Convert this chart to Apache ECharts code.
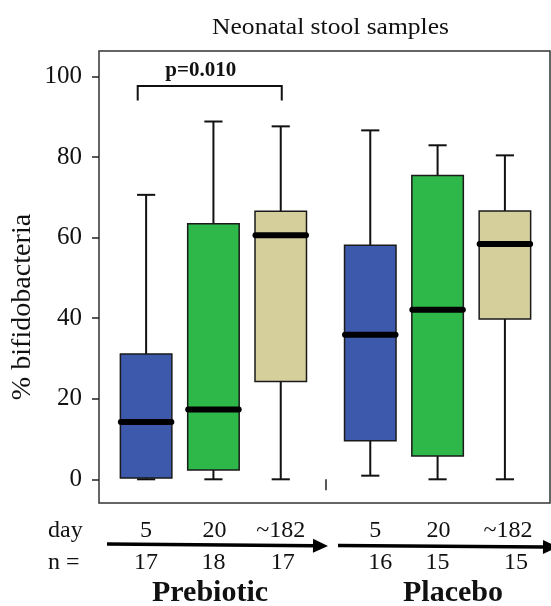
<!DOCTYPE html>
<html>
<head>
<meta charset="utf-8">
<script src="https://cdn.jsdelivr.net/npm/echarts@6/dist/echarts.min.js"></script>
<style>
  html, body { margin: 0; padding: 0; background: #fff; }
  #chart { width: 551px; height: 606px; }
</style>
</head>
<body>
<div id="chart"></div>
<script>
// ---- data ----
const titleText = 'Neonatal stool samples';
const yAxisTitle = '% bifidobacteria';
const groups = ['Prebiotic', 'Placebo'];
const days = ['5', '20', '~182'];
const dayLabels = ['5', '20', '~182', '5', '20', '~182'];
const nValues = [17, 18, 17, 16, 15, 15];
const whiskerLow = [0, 0, 0, 0.9, 0, 0];
const q1 = [0.3, 2.3, 24.3, 9.6, 5.8, 39.8];
const median = [14.2, 17.3, 60.6, 35.9, 42.1, 58.4];
const q3 = [31.1, 63.4, 66.5, 58.1, 75.4, 66.6];
const whiskerHigh = [70.6, 88.8, 87.6, 86.6, 82.9, 80.4];
const yTicks = [0, 20, 40, 60, 80, 100];
const pText = 'p=0.010';

// ---- layout / style ----
const GROUP_STEP = 3.33;           // distance between groups in x units
const BOX_W = 0.765, CAP_W = 0.27;
const boxColors = ['#3D59AB', '#2FB84A', '#D5CF9B'];
const FONT = '"Liberation Serif", "Times New Roman", serif';

const xPos = [];
groups.forEach((g, gi) => days.forEach((d, di) => xPos.push(1 + gi * GROUP_STEP + di)));
const boxData = xPos.map((x, i) => [x, whiskerLow[i], q1[i], median[i], q3[i], whiskerHigh[i]]);
const sepX = (xPos[2] + xPos[3]) / 2;

const chart = echarts.init(document.getElementById('chart'), null, { renderer: 'canvas' });

chart.setOption({
  backgroundColor: '#fff',
  animation: false,
  grid: { left: 99, right: 1, top: 51, bottom: 103, show: true, borderColor: '#333', borderWidth: 1.5,
          containLabel: false, outerBoundsMode: 'none' },
  xAxis: {
    type: 'value', min: 0.3, max: 7.0,
    axisLine: { show: false },
    axisTick: { show: true, customValues: [sepX], length: 11, lineStyle: { color: '#222', width: 1.5 } },
    axisLabel: { show: false },
    splitLine: { show: false }
  },
  yAxis: {
    type: 'value', min: -5.88, max: 106.3,
    axisLine: { show: false },
    axisTick: { show: true, customValues: yTicks, length: 7, lineStyle: { color: '#222', width: 1.5 } },
    axisLabel: { customValues: yTicks, fontFamily: FONT, fontSize: 25, color: '#111', margin: 17 },
    splitLine: { show: false }
  },
  series: [{
    type: 'custom',
    data: boxData,
    encode: { x: 0, y: [1, 2, 3, 4, 5] },
    renderItem: function (params, api) {
      const x = api.value(0);
      const lo = api.coord([x, api.value(1)]);
      const b1 = api.coord([x, api.value(2)]);
      const md = api.coord([x, api.value(3)]);
      const b3 = api.coord([x, api.value(4)]);
      const hi = api.coord([x, api.value(5)]);
      const hw = api.size([BOX_W, 0])[0] / 2;
      const cw = api.size([CAP_W, 0])[0] / 2;
      const color = boxColors[params.dataIndex % 3];
      const ls = { stroke: '#111', lineWidth: 2 };
      return {
        type: 'group',
        children: [
          { type: 'line', shape: { x1: md[0], y1: hi[1], x2: md[0], y2: lo[1] }, style: ls },
          { type: 'line', shape: { x1: md[0] - cw, y1: hi[1], x2: md[0] + cw, y2: hi[1] }, style: ls },
          { type: 'line', shape: { x1: md[0] - cw, y1: lo[1], x2: md[0] + cw, y2: lo[1] }, style: ls },
          { type: 'rect', shape: { x: md[0] - hw, y: b3[1], width: hw * 2, height: b1[1] - b3[1] },
            style: { fill: color, stroke: '#1a1a1a', lineWidth: 1.5 } },
          { type: 'line', shape: { x1: md[0] - hw + 0.5, y1: md[1], x2: md[0] + hw - 0.5, y2: md[1] },
            style: { stroke: '#000', lineWidth: 6, lineCap: 'round' } }
        ]
      };
    }
  }]
});

// ---- annotations ----
function px(x, y) { return chart.convertToPixel({ xAxisIndex: 0, yAxisIndex: 0 }, [x, y]); }
const nShift = [0, 0, 2, 10, 0, 11];
const dayShift = [0, 1, 0, 5, 1, 3];
const gfx = [];
const txt = (t, x, y, size, bold, align, extra) => Object.assign({
  type: 'text', x: x, y: y,
  style: { text: t, fontFamily: FONT, fontSize: size, fontWeight: bold ? 'bold' : 'normal',
           fill: '#111', align: align || 'center', verticalAlign: 'middle' }
}, extra || {});

gfx.push(txt(titleText, 330.5, 28, 23, false, 'center', { scaleX: 1.11 }));
gfx.push(txt(yAxisTitle, 23, 307, 27, false, 'center', { rotation: Math.PI / 2, scaleX: 1.04 }));
gfx.push(txt('day', 48, 531, 24, false, 'left'));
gfx.push(txt('n =', 48, 563, 24, false, 'left'));
xPos.forEach((x, i) => {
  const p = px(x, 0);
  gfx.push(txt(dayLabels[i], p[0] + dayShift[i], 531, 24, false));
  gfx.push(txt(String(nValues[i]), p[0] + nShift[i], 563, 24, false));
});
gfx.push(txt(groups[0], 210, 593, 30, true));
gfx.push(txt(groups[1], 453, 593, 30, true));

// arrows
function arrow(x1, y1, x2, y2) {
  const ang = Math.atan2(y2 - y1, x2 - x1);
  const L = 15, H = 7;
  const bx = x2 - L * Math.cos(ang), by = y2 - L * Math.sin(ang);
  return [
    { type: 'line', shape: { x1: x1, y1: y1, x2: bx + 1, y2: by }, style: { stroke: '#000', lineWidth: 3.5 } },
    { type: 'polygon', shape: { points: [[x2, y2], [bx - H * Math.sin(ang), by + H * Math.cos(ang)], [bx + H * Math.sin(ang), by - H * Math.cos(ang)]] },
      style: { fill: '#000' } }
  ];
}
gfx.push(...arrow(107, 544, 328, 546));
gfx.push(...arrow(338, 545.5, 558, 547));

// significance bracket
const bl = px(0.875, 94.0), br = px(3.015, 94.0), bt = px(0.875, 97.6);
gfx.push({ type: 'polyline', shape: { points: [[bl[0], bl[1]], [bl[0], bt[1]], [br[0], bt[1]], [br[0], br[1]]] },
  style: { stroke: '#111', lineWidth: 2, fill: null } });
gfx.push(txt(pText, (bl[0] + br[0]) / 2 - 9, 71, 21, true));

chart.setOption({ graphic: { elements: gfx } });
</script>
</body>
</html>
